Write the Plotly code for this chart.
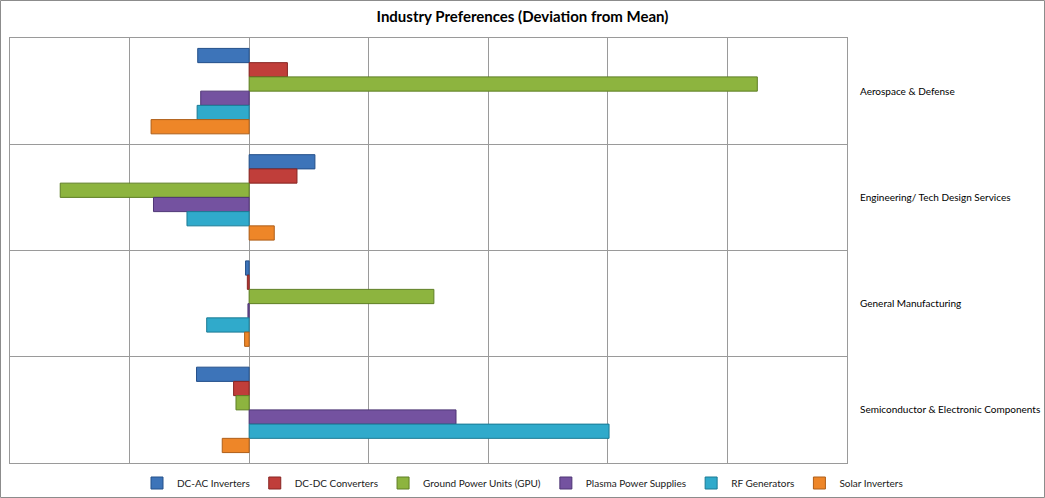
import plotly.graph_objects as go

categories = ["Aerospace & Defense", "Engineering/ Tech Design Services",
              "General Manufacturing", "Semiconductor & Electronic Components"]
series_names = ["DC-AC Inverters", "DC-DC Converters", "Ground Power Units (GPU)",
                "Plasma Power Supplies", "RF Generators", "Solar Inverters"]
dc_ac = [-0.43, 0.55, -0.03, -0.44]
dc_dc = [0.32, 0.40, -0.015, -0.13]
gpu = [4.25, -1.58, 1.545, -0.11]
plasma = [-0.405, -0.80, -0.01, 1.73]
rf = [-0.435, -0.52, -0.355, 3.01]
solar = [-0.82, 0.21, -0.038, -0.225]
series_values = [dc_ac, dc_dc, gpu, plasma, rf, solar]
colors = ["#3D74B9", "#C03E3A", "#8DB43F", "#7452A0", "#30AACB", "#EE8628"]
outlines = ["#24508A", "#872522", "#5F7F25", "#4E3575", "#1B7A94", "#AE5E18"]

fig = go.Figure()
for name, vals, c, oc in zip(series_names, series_values, colors, outlines):
    fig.add_trace(go.Bar(
        y=categories, x=vals, name=name, orientation="h",
        marker=dict(color=c, line=dict(color=oc, width=1)),
    ))

W, H = 1045, 498
ml, mr, mt, mb = 10, 198, 38, 35
pw, ph = W - ml - mr, H - mt - mb

fig.update_layout(
    width=W, height=H,
    margin=dict(l=ml, r=mr, t=mt, b=mb, pad=0, autoexpand=False),
    paper_bgcolor="white", plot_bgcolor="white",
    barmode="group", bargap=0.196, bargroupgap=0,
    font=dict(family="Lato", size=10, color="#000000"),
    title=dict(text="<b>Industry Preferences (Deviation from Mean)</b>",
               x=0.5, xanchor="center", xref="container",
               y=1 - 17 / H, yanchor="middle", yref="container",
               font=dict(family="Lato", size=15, color="#000000")),
    showlegend=True,
    legend=dict(orientation="h", x=0.5, xanchor="center", xref="container",
                y=(H - 483) / H, yanchor="middle", yref="container",
                font=dict(family="Lato", size=10, color="#1a1a1a"),
                traceorder="normal", bgcolor="rgba(0,0,0,0)"),
    xaxis=dict(range=[-2, 5], dtick=1, tick0=0, showgrid=True, gridcolor="#9a9a9a",
               gridwidth=1, zeroline=False, showticklabels=False, ticks="",
               showline=True, linecolor="#9a9a9a", linewidth=1, mirror=True,
               automargin=False, fixedrange=True),
    yaxis=dict(autorange="reversed", side="right", tickson="boundaries",
               showgrid=True, gridcolor="#9a9a9a", gridwidth=1, ticks="",
               ticklabelstandoff=10, automargin=False,
               showline=True, linecolor="#9a9a9a", linewidth=1, mirror=True,
               tickfont=dict(family="Lato", size=10, color="#000000")),
    shapes=[dict(type="rect", xref="paper", yref="paper",
                 x0=(0.5 - ml) / pw, x1=(W - 0.5 - ml) / pw,
                 y0=(H - mb - (H - 0.5)) / ph, y1=(H - mb - 0.5) / ph,
                 line=dict(color="#8c8c8c", width=1), fillcolor="rgba(0,0,0,0)",
                 layer="above")],
)

fig.write_html("out.html")
